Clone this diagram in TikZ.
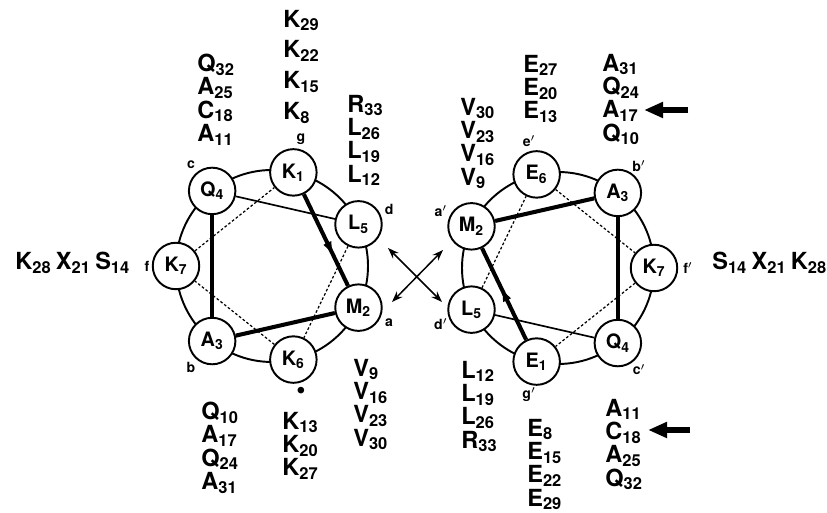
\documentclass[tikz,border=0pt]{standalone}
\usepackage{fontspec}
\setmainfont{TeX Gyre Heros}
\usetikzlibrary{calc,arrows.meta,decorations.markings}
\def\wheelrad{1.92}
\def\labrad{2.6}
\def\rsd#1#2{#1\textsubscript{#2}}
\tikzset{
	res/.style={circle, draw, line width=1.1pt, fill=white, minimum size=0.93cm, inner sep=0pt, font=\fontsize{11.3}{13}\selectfont\bfseries},
	hept/.style={inner sep=0pt, font=\fontsize{8}{9}\selectfont\bfseries},
	seq/.style={align=left, inner sep=0pt, anchor=north west, font=\fontsize{13.4}{13.3}\selectfont\bfseries},
	ring/.style={line width=1.1pt},
	bond/.style={line width=2.3pt},
	link/.style={line width=0.95pt},
	dashln/.style={line width=0.7pt, dash pattern=on 1.5pt off 1.2pt},
	midarrow/.style={postaction={decorate}, decoration={markings, mark=at position #1 with {\arrow{Latex[length=3mm,width=1.8mm]}}}},
	xarr/.style={line width=0.85pt, {Stealth[length=2.2mm,width=1.6mm]}-{Stealth[length=2.2mm,width=1.6mm]}},
	bigarr/.style={line width=3.4pt, -{Triangle[length=3.8mm,width=3mm]}}
}
\begin{document}
\begin{tikzpicture}
			%%%%% START %%%%%
			\useasboundingbox (0, 0) rectangle (16.54, 10.26);
			
			\coordinate (lc) at (5.44, 4.94);
			\coordinate (rc) at (11.16, 4.90);
			\draw[ring] (lc) circle (\wheelrad);
			\draw[ring] (rc) circle (\wheelrad);
			
			% left wheel
			\node[res] (l1) at ($(lc)+(77.14:\wheelrad)$) {\rsd{K}{1}};
			\node[res] (l2) at ($(lc)+(-25.71:\wheelrad)$) {\rsd{M}{2}};
			\node[res] (l3) at ($(lc)+(-128.57:\wheelrad)$) {\rsd{A}{3}};
			\node[res] (l4) at ($(lc)+(128.57:\wheelrad)$) {\rsd{Q}{4}};
			\node[res] (l5) at ($(lc)+(25.71:\wheelrad)$) {\rsd{L}{5}};
			\node[res] (l6) at ($(lc)+(-77.14:\wheelrad)$) {\rsd{K}{6}};
			\node[res] (l7) at ($(lc)+(180:\wheelrad)$) {\rsd{K}{7}};
			
			\draw[bond, midarrow=0.68] (l1) -- (l2);
			\draw[bond] (l2) -- (l3);
			\draw[bond] (l3) -- (l4);
			\draw[link] (l4) -- (l5);
			\draw[dashln] (l5) -- (l6);
			\draw[dashln] (l6) -- (l7);
			\draw[dashln] (l7) -- (l1);
			
			\node[hept] (lg) at ($(lc)+(77.14:\labrad)$) {g};
			\node[hept] (la) at ($(lc)+(-25.71:\labrad)$) {a};
			\node[hept] (lb) at ($(lc)+(-128.57:\labrad)$) {b};
			\node[hept] (lcc) at ($(lc)+(128.57:\labrad)$) {c};
			\node[hept] (ld) at ($(lc)+(25.71:\labrad)$) {d};
			\node[hept] (le) at ($(lc)+(-77.14:\labrad)$) {{\fontsize{15}{16}\selectfont\textbullet}};
			\node[hept] (lf) at ($(lc)+(180:2.5)$) {f};
			
			% right wheel
			\node[res] (r1) at ($(rc)+(-102.86:\wheelrad)$) {\rsd{E}{1}};
			\node[res] (r2) at ($(rc)+(154.29:\wheelrad)$) {\rsd{M}{2}};
			\node[res] (r3) at ($(rc)+(51.43:\wheelrad)$) {\rsd{A}{3}};
			\node[res] (r4) at ($(rc)+(-51.43:\wheelrad)$) {\rsd{Q}{4}};
			\node[res] (r5) at ($(rc)+(-154.29:\wheelrad)$) {\rsd{L}{5}};
			\node[res] (r6) at ($(rc)+(102.86:\wheelrad)$) {\rsd{E}{6}};
			\node[res] (r7) at ($(rc)+(0:\wheelrad)$) {\rsd{K}{7}};
			
			\draw[bond, midarrow=0.58] (r1) -- (r2);
			\draw[bond] (r2) -- (r3);
			\draw[bond] (r3) -- (r4);
			\draw[link] (r4) -- (r5);
			\draw[dashln] (r5) -- (r6);
			\draw[dashln] (r6) -- (r7);
			\draw[dashln] (r7) -- (r1);
			
			\node[hept] (rg) at ($(rc)+(-102.86:\labrad)$) {g$'$};
			\node[hept] (ra) at ($(rc)+(154.29:\labrad)$) {a$'$};
			\node[hept] (rb) at ($(rc)+(51.43:\labrad)$) {b$'$};
			\node[hept] (rcc) at ($(rc)+(-51.43:\labrad)$) {c$'$};
			\node[hept] (rd) at ($(rc)+(-154.29:\labrad)$) {d$'$};
			\node[hept] (re) at ($(rc)+(102.86:\labrad)$) {e$'$};
			\node[hept] (rf) at ($(rc)+(0:\labrad)$) {f$'$};
			
			% sequence columns
			\node[seq] (lgcol) at (5.66, 10.07) {\rsd{K}{29}\\[4.2pt]\rsd{K}{22}\\[4.2pt]\rsd{K}{15}\\[4.2pt]\rsd{K}{8}};
			\node[seq] (lccol) at (3.94, 9.19) {\rsd{Q}{32}\\\rsd{A}{25}\\\rsd{C}{18}\\\rsd{A}{11}};
			\node[seq] (ldcol) at (6.94, 8.37) {\rsd{R}{33}\\\rsd{L}{26}\\\rsd{L}{19}\\\rsd{L}{12}};
			\node[seq] (lacol) at (7.06, 3.09) {\rsd{V}{9}\\\rsd{V}{16}\\\rsd{V}{23}\\\rsd{V}{30}};
			\node[seq] (lecol) at (5.64, 2.03) {\rsd{K}{13}\\\rsd{K}{20}\\\rsd{K}{27}};
			\node[seq] (lbcol) at (4.02, 2.23) {\rsd{Q}{10}\\\rsd{A}{17}\\\rsd{Q}{24}\\\rsd{A}{31}};
			\node[seq, anchor=base west] (lfrow) at (0.30, 4.86) {\rsd{K}{28}\hspace{2.5pt}\rsd{X}{21}\hspace{2.5pt}\rsd{S}{14}};
			
			\node[seq] (racol) at (9.20, 8.31) {\rsd{V}{30}\\\rsd{V}{23}\\\rsd{V}{16}\\\rsd{V}{9}};
			\node[seq] (recol) at (10.46, 9.17) {\rsd{E}{27}\\\rsd{E}{20}\\\rsd{E}{13}};
			\node[seq] (rbcol) at (12.04, 9.19) {\rsd{A}{31}\\\rsd{Q}{24}\\\rsd{A}{17}\\\rsd{Q}{10}};
			\node[seq] (rdcol) at (9.22, 3.05) {\rsd{L}{12}\\\rsd{L}{19}\\\rsd{L}{26}\\\rsd{R}{33}};
			\node[seq] (rgcol) at (10.54, 1.89) {\rsd{E}{8}\\\rsd{E}{15}\\\rsd{E}{22}\\\rsd{E}{29}};
			\node[seq] (rccol) at (12.10, 2.29) {\rsd{A}{11}\\\rsd{C}{18}\\\rsd{A}{25}\\\rsd{Q}{32}};
			\node[seq, anchor=base west] (rfrow) at (14.24, 4.86) {\rsd{S}{14}\hspace{2.5pt}\rsd{X}{21}\hspace{2.5pt}\rsd{K}{28}};
			
			% arrows
			\coordinate (xa) at (7.76, 5.30);
			\coordinate (xb) at (8.84, 4.22);
			\coordinate (xc) at (7.84, 4.22);
			\coordinate (xd) at (8.86, 5.26);
			\draw[xarr] (xa) -- (xb);
			\draw[xarr] (xc) -- (xd);
			
			\coordinate (topt) at (13.76, 8.06);
			\coordinate (toph) at (12.88, 8.06);
			\draw[bigarr] (topt) -- (toph);
			\coordinate (bott) at (13.80, 1.66);
			\coordinate (both) at (12.96, 1.66);
			\draw[bigarr] (bott) -- (both);
			
			%%%%% END %%%%%
\end{tikzpicture}
\end{document}
